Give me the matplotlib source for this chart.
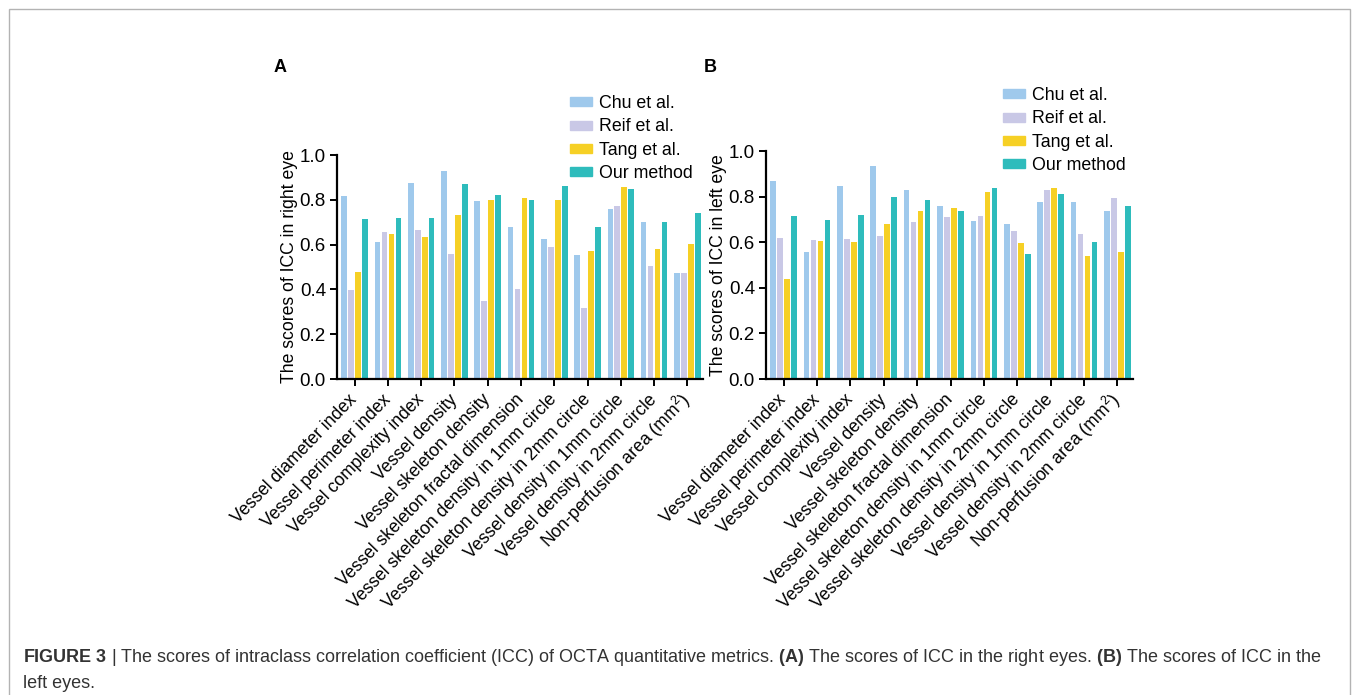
import matplotlib.pyplot as plt
import matplotlib.patches as mpatches
import numpy as np

plt.rcParams['font.family'] = 'Liberation Sans'
plt.rcParams['mathtext.fontset'] = 'custom'
plt.rcParams['mathtext.rm'] = 'Liberation Sans'
plt.rcParams['mathtext.it'] = 'Liberation Sans:italic'
plt.rcParams['mathtext.bf'] = 'Liberation Sans:bold'

# OCTA metrics on the x axis
metrics = ['Vessel diameter index', 'Vessel perimeter index', 'Vessel complexity index',
           'Vessel density', 'Vessel skeleton density', 'Vessel skeleton fractal dimension',
           'Vessel skeleton density in 1mm circle', 'Vessel skeleton density in 2mm circle',
           'Vessel density in 1mm circle', 'Vessel density in 2mm circle',
           'Non-perfusion area (mm$^2$)']
methods = ['Chu et al.', 'Reif et al.', 'Tang et al.', 'Our method']
colors = ['#9fc9ec', '#c9c8e6', '#f6d025', '#2ebcbc']

# ICC, right eye (panel A)
chu_right = [0.818, 0.611, 0.875, 0.928, 0.796, 0.677, 0.624, 0.552, 0.760, 0.700, 0.472]
reif_right = [0.399, 0.657, 0.664, 0.556, 0.347, 0.400, 0.590, 0.319, 0.773, 0.505, 0.472]
tang_right = [0.478, 0.646, 0.632, 0.732, 0.799, 0.806, 0.797, 0.570, 0.858, 0.579, 0.604]
our_right = [0.713, 0.719, 0.717, 0.869, 0.821, 0.797, 0.863, 0.677, 0.847, 0.700, 0.742]

# ICC, left eye (panel B)
chu_left = [0.870, 0.556, 0.847, 0.933, 0.828, 0.758, 0.693, 0.678, 0.778, 0.776, 0.737]
reif_left = [0.620, 0.610, 0.616, 0.628, 0.689, 0.711, 0.715, 0.648, 0.829, 0.636, 0.795]
tang_left = [0.438, 0.606, 0.603, 0.680, 0.737, 0.749, 0.819, 0.595, 0.836, 0.539, 0.558]
our_left = [0.714, 0.698, 0.718, 0.800, 0.784, 0.736, 0.839, 0.550, 0.810, 0.599, 0.757]

W, H = 1355, 695
fig = plt.figure(figsize=(W / 100, H / 100), dpi=100)


def panel(px_left, px_right, px_top, px_bottom, series, ylabel):
    ax = fig.add_axes([px_left / W, 1 - px_bottom / H,
                       (px_right - px_left) / W, (px_bottom - px_top) / H])
    x = np.arange(len(metrics))
    for i, (vals, c) in enumerate(zip(series, colors)):
        ax.bar(x + (i - 1.5) * 0.21, vals, width=0.17, color=c, linewidth=0)
    ax.set_xlim(-0.53, 10.47)
    ax.set_ylim(0, 1)
    ax.set_yticks(np.arange(0, 1.01, 0.2))
    ax.yaxis.set_major_formatter('{x:.1f}')
    ax.set_xticks(x)
    ax.set_xticklabels(metrics, rotation=46, ha='right', va='center',
                       rotation_mode='anchor', fontsize=12.7)
    for s in ['top', 'right']:
        ax.spines[s].set_visible(False)
    for s in ['left', 'bottom']:
        ax.spines[s].set_linewidth(1.6)
    ax.tick_params(axis='y', labelsize=13.5, width=1.4, length=5, pad=3)
    ax.tick_params(axis='x', width=1.4, length=5, pad=8)
    ax.set_ylabel(ylabel, fontsize=12.7, labelpad=1)
    return ax


axA = panel(337, 703, 155, 379, [chu_right, reif_right, tang_right, our_right],
            'The scores of ICC in right eye')
axB = panel(766, 1133, 151, 379, [chu_left, reif_left, tang_left, our_left],
            'The scores of ICC in left eye')

handles = [mpatches.Patch(color=c, label=m) for c, m in zip(colors, methods)]
for ax, (lx, ly) in [(axA, (570, 95)), (axB, (1003, 87))]:
    ax.legend(handles=handles, loc='upper left', bbox_to_anchor=(lx / W, 1 - ly / H),
              bbox_transform=fig.transFigure, frameon=False, fontsize=12.8,
              borderpad=0, borderaxespad=0, handlelength=1.25, handleheight=0.4,
              handletextpad=0.4, labelspacing=0.36)

fig.text(280 / W, 1 - 67 / H, 'A', fontsize=13, fontweight='bold', ha='center', va='center')
fig.text(710 / W, 1 - 67 / H, 'B', fontsize=13, fontweight='bold', ha='center', va='center')

# frame around the figure (open at the bottom)
fig.add_artist(mpatches.Rectangle((9 / W, -0.05), (1350 - 9) / W, 1 - 9 / H + 0.05,
                                  transform=fig.transFigure, fill=False,
                                  edgecolor='#b3b3b3', linewidth=1))

caption1 = (r'$\bf{FIGURE\ 3}$ | The scores of intraclass correlation coefficient (ICC) of OCTA '
            r'quantitative metrics. $\bf{(A)}$ The scores of ICC in the right eyes. '
            r'$\bf{(B)}$ The scores of ICC in the')
fig.text(23 / W, 1 - 657 / H, caption1, fontsize=13, color='#333333', va='center')
fig.text(23 / W, 1 - 683 / H, 'left eyes.', fontsize=13, color='#333333', va='center')

fig.savefig('out.png', dpi=100)
